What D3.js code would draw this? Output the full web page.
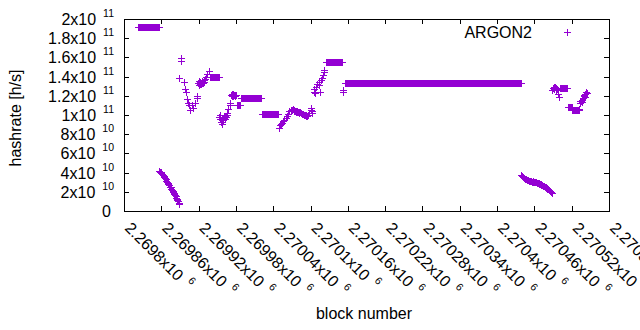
<!DOCTYPE html>
<html>
<head>
<meta charset="utf-8">
<script src="https://cdn.jsdelivr.net/npm/d3@7"></script>
<style>
  body { margin: 0; background: #fff; }
  text { font-family: "Liberation Sans", Arial, sans-serif; fill: #000; }
</style>
</head>
<body>
<svg width="640" height="330"></svg>
<script>
// tick values
const yTicks = [0, 2e10, 4e10, 6e10, 8e10, 1e11, 1.2e11, 1.4e11, 1.6e11, 1.8e11, 2e11];
const xTicks = [2269800, 2269860, 2269920, 2269980, 2270040, 2270100, 2270160,
                2270220, 2270280, 2270340, 2270400, 2270460, 2270520, 2270580];

// flat stretches: [first block, last block, hashrate]
const flatRuns = [
  [2269823, 2269856, 19.15e10],
  [2269938, 2269952, 13.95e10],
  [2269981, 2269987, 11.0e10],
  [2269988, 2270021, 11.74e10],
  [2270022, 2270048, 10.07e10],
  [2270125, 2270150, 15.49e10],
  [2270156, 2270438, 13.30e10],
  [2270501, 2270513, 12.78e10],
  [2270514, 2270520, 10.86e10],
  [2270521, 2270531, 10.49e10]
];

// two falling stretches, one value per block
const drop1Start = 2269857;
const drop1 = [4.21e10, 4.10e10, 4.06e10, 3.95e10, 3.89e10, 3.78e10, 3.72e10, 3.60e10, 3.53e10, 3.40e10,
               3.31e10, 3.17e10, 3.06e10, 2.94e10, 2.86e10, 2.74e10, 2.66e10, 2.53e10, 2.45e10, 2.31e10,
               2.23e10, 2.10e10, 2.01e10, 1.86e10, 1.77e10, 1.62e10, 1.52e10, 1.38e10, 1.28e10, 1.13e10,
               1.03e10, 0.88e10, 0.77e10];
const drop2Start = 2270439;
const drop2 = [3.72e10, 3.63e10, 3.55e10, 3.51e10, 3.45e10, 3.42e10, 3.37e10, 3.36e10, 3.29e10, 3.27e10,
               3.21e10, 3.20e10, 3.17e10, 3.15e10, 3.11e10, 3.10e10, 3.11e10, 3.07e10, 3.08e10, 3.04e10,
               3.05e10, 3.01e10, 3.02e10, 2.98e10, 2.97e10, 2.94e10, 2.93e10, 2.89e10, 2.88e10, 2.84e10,
               2.82e10, 2.78e10, 2.76e10, 2.71e10, 2.69e10, 2.64e10, 2.62e10, 2.56e10, 2.54e10, 2.47e10,
               2.44e10, 2.37e10, 2.34e10, 2.26e10, 2.22e10, 2.14e10, 2.10e10, 2.01e10, 1.97e10, 1.90e10];

// scattered single blocks: [block, hashrate]
const scattered = [
  [2269888, 13.85e10], [2269891, 15.9e10], [2269892, 15.6e10], [2269896, 13.45e10],
  [2269898, 12.7e10], [2269899, 12.4e10], [2269901, 11.7e10], [2269903, 11.2e10],
  [2269904, 11.0e10], [2269906, 10.5e10], [2269909, 11.04e10], [2269911, 10.7e10],
  [2269914, 11.2e10], [2269917, 11.77e10], [2269918, 11.98e10],
  [2269919, 13.3e10], [2269920, 13.1e10], [2269921, 13.5e10], [2269922, 13.25e10],
  [2269923, 13.4e10], [2269924, 13.2e10], [2269925, 13.55e10], [2269926, 13.35e10],
  [2269927, 13.3e10], [2269928, 13.6e10], [2269929, 13.45e10], [2269930, 13.7e10],
  [2269932, 13.99e10], [2269934, 14.3e10], [2269936, 14.6e10],
  [2269953, 9.79e10], [2269954, 10.0e10], [2269955, 9.58e10], [2269956, 9.3e10],
  [2269957, 9.06e10], [2269958, 9.58e10], [2269959, 9.48e10], [2269960, 9.69e10],
  [2269961, 9.79e10], [2269962, 9.9e10], [2269963, 9.58e10], [2269964, 9.79e10],
  [2269965, 10.0e10], [2269966, 10.2e10], [2269968, 10.6e10], [2269970, 11.22e10],
  [2269971, 11.0e10], [2269972, 12.1e10], [2269973, 11.95e10], [2269974, 12.15e10],
  [2269975, 12.0e10], [2269976, 12.2e10], [2269977, 12.05e10], [2269978, 12.1e10],
  [2269979, 11.95e10], [2269980, 12.1e10],
  [2270049, 8.65e10], [2270051, 8.96e10], [2270052, 9.06e10], [2270054, 9.17e10],
  [2270056, 9.38e10], [2270058, 9.48e10], [2270060, 9.69e10], [2270062, 9.9e10],
  [2270064, 10.1e10], [2270066, 10.42e10], [2270068, 10.57e10], [2270070, 10.52e10],
  [2270072, 10.63e10], [2270073, 10.45e10], [2270074, 10.5e10], [2270075, 10.4e10],
  [2270076, 10.45e10], [2270077, 10.35e10], [2270078, 10.4e10], [2270079, 10.3e10],
  [2270080, 10.35e10], [2270081, 10.3e10], [2270082, 10.25e10], [2270083, 10.3e10],
  [2270084, 10.2e10], [2270085, 10.25e10], [2270086, 10.15e10], [2270087, 10.1e10],
  [2270088, 10.1e10], [2270089, 10.05e10], [2270090, 10.0e10], [2270091, 9.95e10],
  [2270092, 9.9e10], [2270093, 9.95e10], [2270094, 9.85e10], [2270095, 9.9e10],
  [2270096, 9.95e10], [2270098, 10.2e10], [2270100, 10.73e10], [2270101, 10.5e10],
  [2270102, 10.45e10], [2270103, 10.2e10],
  [2270105, 12.43e10], [2270106, 12.71e10], [2270107, 12.29e10], [2270109, 12.92e10],
  [2270111, 13.23e10], [2270113, 13.44e10], [2270114, 13.13e10], [2270116, 12.43e10],
  [2270117, 13.65e10], [2270119, 13.85e10], [2270120, 14.17e10], [2270121, 14.48e10],
  [2270122, 14.69e10], [2270152, 12.4e10], [2270153, 12.6e10],
  [2270489, 12.6e10], [2270490, 12.8e10], [2270491, 12.9e10], [2270492, 12.7e10],
  [2270493, 12.95e10], [2270494, 12.6e10], [2270495, 12.85e10], [2270496, 12.7e10],
  [2270498, 12.15e10], [2270499, 11.9e10],
  [2270532, 10.6e10], [2270533, 11.49e10], [2270534, 11.3e10], [2270535, 11.45e10],
  [2270536, 11.6e10], [2270537, 11.4e10], [2270538, 11.8e10], [2270539, 12.0e10],
  [2270540, 12.08e10], [2270541, 11.9e10], [2270542, 12.2e10], [2270543, 12.4e10],
  [2270544, 12.25e10]
];

const seriesName = "ARGON2";
const color = "#9400d3";

// gather every block into one list
let points = [];
flatRuns.forEach(r => { for (let b = r[0]; b <= r[1]; b++) points.push([b, r[2]]); });
drop1.forEach((v, i) => points.push([drop1Start + i, v]));
drop2.forEach((v, i) => points.push([drop2Start + i, v]));
points = points.concat(scattered);

const svg = d3.select("svg");
const L = 124, R = 609, T = 19, B = 211;
const fs = 16;

const x = d3.scaleLinear().domain([2269800, 2270580]).range([L, R]);
const y = d3.scaleLinear().domain([0, 2e11]).range([B, T]);

// "2.2698x10" + superscript exponent, gnuplot style
function sci(v) {
  if (v === 0) return ["0", null];
  const e = Math.floor(Math.log10(v) + 1e-9);
  const m = +(v / Math.pow(10, e)).toPrecision(6);
  return [m + "x10", String(e)];
}
function writeLabel(t, v) {
  const p = sci(v);
  t.append("tspan").text(p[0]);
  if (p[1]) t.append("tspan").attr("font-size", 10.5).attr("dx", 7).attr("dy", -8).text(p[1]);
}

// ticks (inside, mirrored)
const tk = svg.append("g").attr("stroke", "#000").attr("stroke-width", 1);
yTicks.forEach(v => {
  const yy = Math.round(y(v)) + 0.5;
  tk.append("line").attr("x1", L).attr("x2", L + 5).attr("y1", yy).attr("y2", yy);
  tk.append("line").attr("x1", R - 5).attr("x2", R).attr("y1", yy).attr("y2", yy);
});
xTicks.forEach(v => {
  const xx = Math.round(x(v)) + 0.5;
  tk.append("line").attr("x1", xx).attr("x2", xx).attr("y1", B).attr("y2", B - 5);
  tk.append("line").attr("x1", xx).attr("x2", xx).attr("y1", T).attr("y2", T + 5);
});

// border
svg.append("rect")
    .attr("x", L + 0.5).attr("y", T + 0.5)
    .attr("width", R - L).attr("height", B - T)
    .attr("fill", "none").attr("stroke", "#000");

// y labels
svg.append("g").selectAll("text")
  .data(yTicks)
  .join("text")
    .attr("x", d => d === 0 ? 111 : 114)
    .attr("y", d => y(d) + 6)
    .attr("text-anchor", "end")
    .attr("font-size", fs)
    .each(function(d) { writeLabel(d3.select(this), d); });

// x labels, rotated
svg.append("g").selectAll("text")
  .data(xTicks)
  .join("text")
    .attr("transform", d => `translate(${x(d)},${B + 18}) rotate(45)`)
    .attr("font-size", fs)
    .each(function(d) { writeLabel(d3.select(this), d); });

// axis titles
svg.append("text")
    .attr("transform", "translate(21,118) rotate(-90)")
    .attr("text-anchor", "middle")
    .attr("font-size", fs)
    .text("hashrate [h/s]");
svg.append("text")
    .attr("x", 364).attr("y", 319)
    .attr("text-anchor", "middle")
    .attr("font-size", fs)
    .text("block number");

// plus markers
function plus(px, py) {
  const cx = Math.round(px), cy = Math.round(py);
  return `M${cx - 3},${cy + 0.5}H${cx + 4}M${cx + 0.5},${cy - 3}V${cy + 4}`;
}
svg.append("path")
    .attr("d", points.map(d => plus(x(d[0]), y(d[1]))).join(""))
    .attr("fill", "none")
    .attr("stroke", color)
    .attr("stroke-width", 1);

// key
svg.append("text")
    .attr("x", 532).attr("y", 37.5)
    .attr("text-anchor", "end")
    .attr("font-size", fs)
    .text(seriesName);
svg.append("path")
    .attr("d", plus(567, 32))
    .attr("stroke", color)
    .attr("fill", "none");
</script>
</body>
</html>
